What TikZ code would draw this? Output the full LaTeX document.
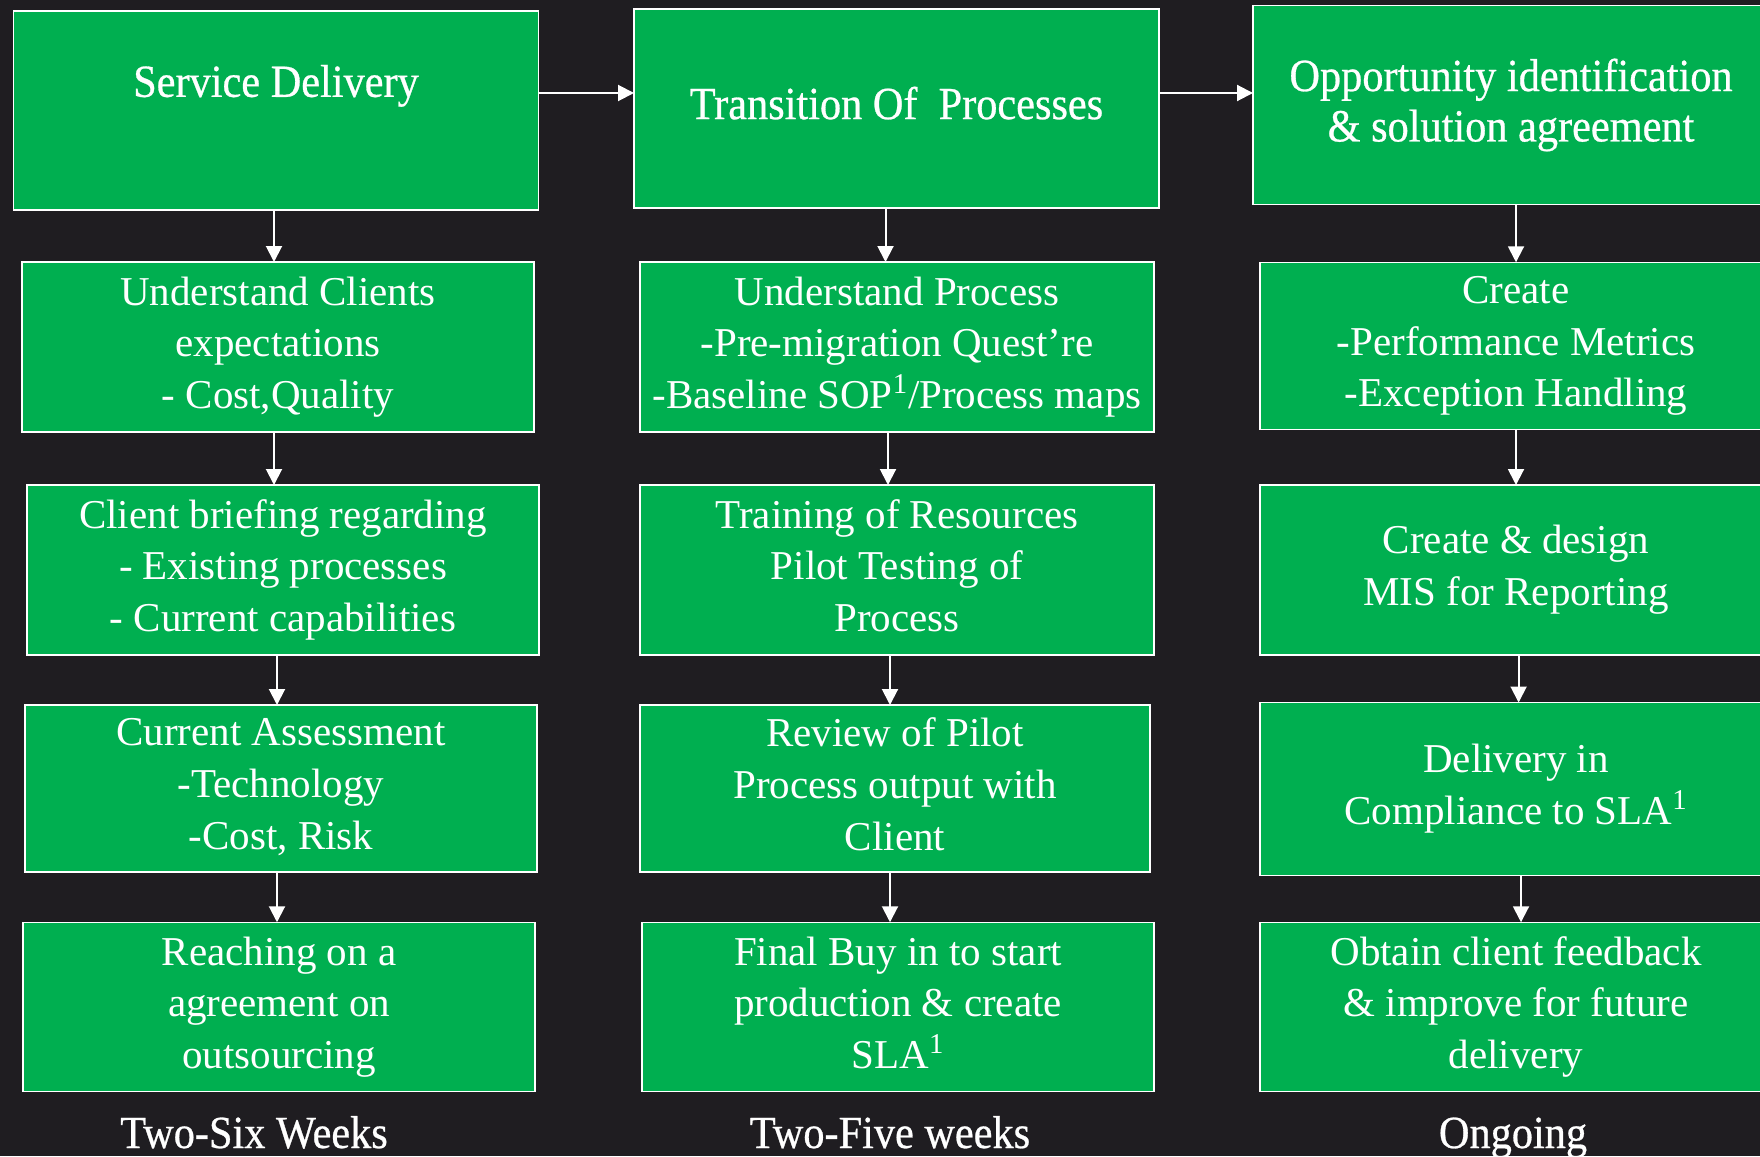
\documentclass[tikz,border=0pt]{standalone}
\usepackage{fontspec}
\setmainfont{Liberation Serif}
\newfontfamily\headfont{Liberation Serif}[FakeStretch=0.92,FakeBold=0.6]
\usetikzlibrary{arrows.meta}
\definecolor{slidebg}{HTML}{1F1D21}
\definecolor{stagegreen}{HTML}{00AF50}

\begin{document}
\begin{tikzpicture}[x=0.5pt,y=-0.5pt,
    stage/.style={draw=white,line width=0.6pt,fill=stagegreen,text=white,align=center,
      inner sep=0pt,outer sep=0pt,minimum width=256pt,minimum height=85pt,
      text depth=4.5pt,font=\fontsize{20.5}{25.8}\selectfont},
    head/.style={stage,minimum width=262.5pt,minimum height=99.5pt,text depth=,
      font=\headfont\fontsize{23}{25.2}\selectfont},
    weeks/.style={text=white,anchor=base,font=\headfont\fontsize{23}{25}\selectfont},
    flow/.style={draw=white,line width=1pt,-{Triangle[width=8pt,length=8pt]}}]
    \clip (0,0) rectangle (1760,1156);
    \fill[slidebg] (0,0) rectangle (1760,1156);

    \node[head] (sd) at (276,110.5) {Service Delivery\\[4.4pt] \mbox{}};
    \node[head,text depth=5.6pt] (tp) at (896.5,108.5) {Transition Of\ \ Processes};
    \node[head,minimum width=258pt] (oi) at (1511,105) {Opportunity identification\\ \& solution agreement};

    \node[stage] (uc) at (278,347) {Understand Clients\\ expectations\\ - Cost,Quality};
    \node[stage,minimum width=257pt] (up) at (897,347) {Understand Process\\ -Pre-migration Quest’re\\ -Baseline SOP\textsuperscript{1}/Process maps};
    \node[stage,minimum height=83.75pt] (cm) at (1516,346) {Create\\ -Performance Metrics\\ -Exception Handling};

    \node[stage] (cb) at (283,570) {Client briefing regarding\\ - Existing processes\\ - Current capabilities};
    \node[stage,minimum width=257pt] (tr) at (897,570) {Training of Resources\\ Pilot Testing of\\ Process};
    \node[stage] (mis) at (1516,570) {Create \& design\\ MIS for Reporting};

    \node[stage,minimum height=83.5pt] (ca) at (281,788.5) {Current Assessment\\ -Technology\\ -Cost, Risk};
    \node[stage,minimum width=255pt,minimum height=83.5pt] (rp) at (895,788.5) {Review of Pilot\\ Process output with\\ Client};
    \node[stage,minimum height=86.5pt] (dc) at (1516,789) {Delivery in\\ Compliance to SLA\textsuperscript{1}};

    \node[stage,minimum height=84.75pt] (ra) at (279,1007) {Reaching on a\\ agreement on\\ outsourcing};
    \node[stage,minimum height=84.75pt] (fb) at (898,1007) {Final Buy in to start\\ production \& create\\ SLA\textsuperscript{1}};
    \node[stage,minimum height=84.75pt] (fe) at (1516,1007) {Obtain client feedback\\ \& improve for future\\ delivery};

    \node[weeks] (w1) at (254,1148) {Two-Six Weeks};
    \node[weeks] (w2) at (890,1148) {Two-Five weeks};
    \node[weeks] (w3) at (1513,1148) {Ongoing};

    \draw[flow] ([yshift=8.75pt]sd.east) -- ([yshift=8.75pt]sd.east -| tp.west);
    \draw[flow] ([yshift=7.75pt]tp.east) -- ([yshift=7.75pt]tp.east -| oi.west);
    \foreach \a/\b/\s in {sd/uc/-1,uc/cb/-2,cb/ca/-3,ca/ra/-2,
                          tp/up/-5.5,up/tr/-4.5,tr/rp/-3.5,rp/fb/-2.5,
                          oi/cm/2.5,cm/mis/0,mis/dc/1.3,dc/fe/2.5}
      \draw[flow] ([xshift=\s pt]\a.south) -- ([xshift=\s pt]\a.south |- \b.north);
\end{tikzpicture}
\end{document}
